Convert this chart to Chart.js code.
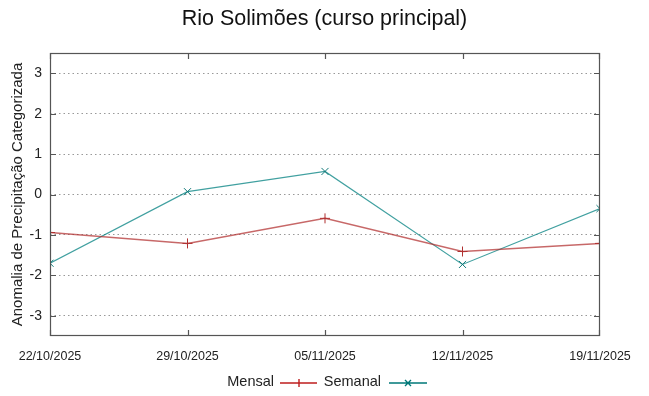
<!DOCTYPE html>
<html><head><meta charset="utf-8">
<script src="https://cdn.jsdelivr.net/npm/chart.js@4/dist/chart.umd.min.js"></script>
<style>html,body{margin:0;padding:0;background:#fff}#wrap{width:649px;height:396px}</style>
</head><body><div id="wrap"><canvas id="c" width="649" height="396"></canvas></div>
<script>
const categories = ["22/10/2025","29/10/2025","05/11/2025","12/11/2025","19/11/2025"];
const mensal = [-0.94,-1.21,-0.59,-1.41,-1.21];
const semanal = [-1.70,0.07,0.57,-1.73,-0.35];
const yTicks = [-3,-2,-1,0,1,2,3];
const seriesNames = ["Mensal","Semanal"];
const titleText = 'Rio Solimões (curso principal)';

const NARROW = "'Liberation Sans Narrow','Arial Narrow','Liberation Sans',Arial,sans-serif";
const SANS = "'Liberation Sans',Arial,sans-serif";
const toPts = arr => arr.map((v,i)=>({x:i,y:v}));

const frame = {
  id:'frame',
  afterDraw(chart){
    const {ctx, chartArea:a, scales:{x,y}} = chart;
    ctx.save();
    ctx.fillStyle='#111'; ctx.font="21.5px "+SANS; ctx.textAlign='center'; ctx.textBaseline='middle';
    ctx.fillText(titleText, 324.5, 19);
    ctx.strokeStyle='#555'; ctx.lineWidth=1.2;
    ctx.strokeRect(a.left+0.5,a.top+0.5,a.right-a.left-1,a.bottom-a.top-1);
    ctx.beginPath();
    yTicks.forEach(v=>{const py=Math.round(y.getPixelForValue(v))+0.5;
      ctx.moveTo(a.left,py);ctx.lineTo(a.left+6,py);
      ctx.moveTo(a.right,py);ctx.lineTo(a.right-6,py);});
    categories.forEach((c,i)=>{let px=Math.round(x.getPixelForValue(i))+0.5;
      px=Math.min(Math.max(px,a.left+0.5),a.right-0.5);
      ctx.moveTo(px,a.bottom);ctx.lineTo(px,a.bottom-6);
      ctx.moveTo(px,a.top);ctx.lineTo(px,a.top+6);});
    ctx.stroke();
    ctx.restore();
    // legend
    const ly=383;
    const items=[{name:seriesNames[0],tx:274,l0:280,l1:317,col:'rgb(190,30,30)',st:'+'},
                 {name:seriesNames[1],tx:381,l0:389,l1:427,col:'rgb(0,120,120)',st:'x'}];
    items.forEach(it=>{
      ctx.save();
      ctx.font="14.5px "+NARROW; ctx.textBaseline='middle'; ctx.textAlign='right';
      ctx.fillStyle='#222'; ctx.fillText(it.name,it.tx,ly-1);
      ctx.restore();
      ctx.save();
      ctx.strokeStyle=it.col; ctx.lineWidth=1.4; ctx.setLineDash([]);
      ctx.beginPath(); ctx.moveTo(it.l0,ly); ctx.lineTo(it.l1,ly);
      const cx=Math.round((it.l0+it.l1)/2), r=4;
      if(it.st==='+'){ctx.moveTo(cx,ly-r);ctx.lineTo(cx,ly+r);}
      else{ctx.moveTo(cx-3,ly-3);ctx.lineTo(cx+3,ly+3);ctx.moveTo(cx-3,ly+3);ctx.lineTo(cx+3,ly-3);}
      ctx.stroke();
      ctx.restore();
    });
  }
};

new Chart(document.getElementById('c'),{
  type:'line',
  data:{datasets:[
    {label:seriesNames[0],data:toPts(mensal),borderColor:'rgba(175,40,40,0.7)',borderWidth:1.5,
     pointStyle:'cross',pointRadius:5,pointBorderColor:'#b03030',pointBorderWidth:1,tension:0},
    {label:seriesNames[1],data:toPts(semanal),borderColor:'rgba(0,128,128,0.75)',borderWidth:1.2,
     pointStyle:'crossRot',pointRadius:5,pointBorderColor:'#107878',pointBorderWidth:1,tension:0}
  ]},
  options:{
    responsive:false,animation:false,
    layout:{padding:{left:0,right:49,top:53,bottom:30}},
    plugins:{legend:{display:false},tooltip:{enabled:false},title:{display:false}},
    scales:{
      x:{type:'linear',min:0,max:4,
        afterBuildTicks:s=>{s.ticks=categories.map((c,i)=>({value:i}));},
        afterFit:s=>{s.height=30;},
        grid:{display:false,drawTicks:false},border:{display:false},
        ticks:{callback:v=>categories[v]??'',color:'#222',font:{family:NARROW,size:12.5},padding:13,maxRotation:0,autoSkip:false}},
      y:{min:-3.5,max:3.5,
        afterBuildTicks:s=>{s.ticks=yTicks.map(v=>({value:v}));},
        afterFit:s=>{s.width=50;},
        grid:{color:'#999',drawTicks:false,lineWidth:1},border:{display:false,dash:[1.5,3]},
        ticks:{color:'#222',font:{family:SANS,size:14},padding:8},
        title:{display:true,text:'Anomalia de Precipitação Categorizada',color:'#222',
          font:{family:SANS,size:15},padding:{top:9,bottom:0}}}
    }
  },
  plugins:[frame]
});
</script></body></html>
